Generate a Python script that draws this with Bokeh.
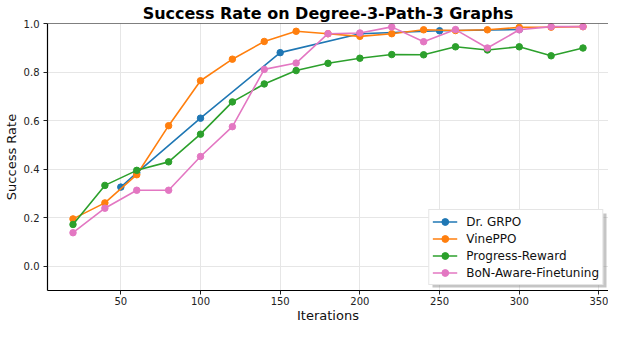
from bokeh.plotting import figure
from bokeh.models import FixedTicker, PrintfTickFormatter, Span, Range1d, BoxAnnotation
from bokeh.embed import file_html
from bokeh.resources import INLINE

# ---- data ----
grpo_x = [50, 60, 100, 150, 200, 250, 300]
grpo_y = [0.326, 0.385, 0.61, 0.88, 0.958, 0.970, 0.975]

iters = [20, 40, 60, 80, 100, 120, 140, 160, 180, 200, 220, 240, 260, 280, 300, 320, 340]
vine_y = [0.195, 0.261, 0.377, 0.579, 0.764, 0.853, 0.926, 0.968, 0.958, 0.947, 0.958,
          0.974, 0.971, 0.974, 0.984, 0.985, 0.987]
prog_y = [0.172, 0.333, 0.395, 0.430, 0.544, 0.677, 0.751, 0.806, 0.836, 0.857, 0.872,
          0.871, 0.904, 0.891, 0.904, 0.867, 0.899]
bon_y = [0.138, 0.239, 0.313, 0.313, 0.452, 0.575, 0.811, 0.837, 0.958, 0.961, 0.986,
         0.925, 0.975, 0.899, 0.974, 0.987, 0.987]

x_ticks = [50, 100, 150, 200, 250, 300, 350]
y_ticks = [0.0, 0.2, 0.4, 0.6, 0.8, 1.0]

series = [
    ("Dr. GRPO", grpo_x, grpo_y, "#1f77b4"),
    ("VinePPO", iters, vine_y, "#ff7f0e"),
    ("Progress-Reward", iters, prog_y, "#2ca02c"),
    ("BoN-Aware-Finetuning", iters, bon_y, "#e377c2"),
]

FONT = "DejaVu Sans"

p = figure(width=608, height=325, output_backend="svg", toolbar_location=None,
           x_range=Range1d(4, 356), y_range=Range1d(-0.1, 1.0),
           min_border_left=46, min_border_right=0, min_border_top=23, min_border_bottom=30)

p.title.text = "Success Rate on Degree-3-Path-3 Graphs"
p.title.text_font = FONT
p.title.text_font_size = "16px"
p.title.text_font_style = "bold"
p.title.text_color = "black"
p.title.align = "center"
p.title.standoff = 2
p.title.offset = 0

p.outline_line_color = None
p.background_fill_color = "white"
p.border_fill_color = "white"

# legend shadow (drawn beneath the legend box)
shadow = BoxAnnotation(left=432, right=606, top=213, bottom=287,
                       left_units="canvas", right_units="canvas",
                       top_units="canvas", bottom_units="canvas",
                       fill_color="#7f7f7f", fill_alpha=0.45, line_color=None,
                       level="underlay", propagate_hover=False)
p.add_layout(shadow)

for name, xs, ys, col in series:
    p.line(xs, ys, line_color=col, line_width=1.6, legend_label=name)
    p.scatter(xs, ys, size=6.5, fill_color=col, line_color=col, legend_label=name)

# top spine
p.add_layout(Span(location=1.0, dimension="width", line_color="black", line_width=1.2))

for ax in (p.xaxis[0], p.yaxis[0]):
    ax.axis_line_color = "black"
    ax.axis_line_width = 1.2
    ax.major_tick_out = 4
    ax.major_tick_in = 0
    ax.major_tick_line_color = "#222222"
    ax.major_tick_line_width = 1
    ax.minor_tick_out = 0
    ax.minor_tick_in = 0
    ax.major_label_text_font = FONT
    ax.major_label_text_font_size = "10px"
    ax.major_label_text_color = "#222222"
    ax.axis_label_text_font = FONT
    ax.axis_label_text_font_size = "13px"
    ax.axis_label_text_font_style = "normal"
    ax.axis_label_text_color = "#111111"

p.xaxis.ticker = FixedTicker(ticks=x_ticks)
p.yaxis.ticker = FixedTicker(ticks=y_ticks)
p.yaxis.formatter = PrintfTickFormatter(format="%.1f")
p.xaxis.axis_label = "Iterations"
p.yaxis.axis_label = "Success Rate"
p.xaxis.major_label_standoff = 2
p.xaxis.axis_label_standoff = 0
p.yaxis.major_label_standoff = 4
p.yaxis.axis_label_standoff = 2

p.xgrid.ticker = FixedTicker(ticks=x_ticks)
p.ygrid.ticker = FixedTicker(ticks=y_ticks)
p.grid.grid_line_color = "#e6e6e6"
p.grid.grid_line_width = 1

lg = p.legend[0]
lg.location = "bottom_right"
lg.margin = 5
lg.padding = 3
lg.spacing = 0
lg.label_height = 17
lg.glyph_height = 17
lg.glyph_width = 25
lg.label_standoff = 9
lg.label_text_font = FONT
lg.label_text_font_size = "12px"
lg.label_text_color = "#111111"
lg.border_line_color = "#cccccc"
lg.border_line_width = 1
lg.background_fill_alpha = 1.0

open("out.html", "w").write(file_html(p, INLINE))
